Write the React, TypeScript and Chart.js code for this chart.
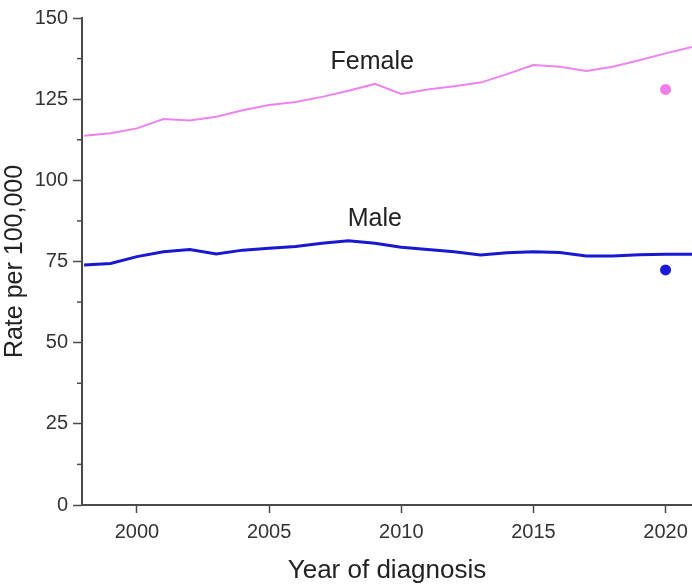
import React, { useEffect, useRef } from "react";
import { Chart, registerables } from "chart.js";

Chart.register(...registerables);

const years = [1998, 1999, 2000, 2001, 2002, 2003, 2004, 2005, 2006, 2007, 2008, 2009, 2010, 2011, 2012, 2013, 2014, 2015, 2016, 2017, 2018, 2019, 2020, 2021];
const femaleRates = [113.7, 114.5, 116.0, 118.9, 118.4, 119.6, 121.6, 123.2, 124.1, 125.7, 127.6, 129.7, 126.6, 128.0, 129.0, 130.1, 132.7, 135.5, 135.0, 133.7, 135.0, 137.0, 139.1, 141.1];
const maleRates = [73.9, 74.4, 76.5, 78.0, 78.7, 77.3, 78.5, 79.1, 79.6, 80.6, 81.4, 80.6, 79.4, 78.7, 78.0, 77.0, 77.7, 78.0, 77.8, 76.7, 76.7, 77.1, 77.2, 77.2];
const female2020Point = { year: 2020, rate: 128.0 };
const male2020Point = { year: 2020, rate: 72.4 };
const xTickValues = [2000, 2005, 2010, 2015, 2020];
const seriesLabels = [
  { text: "Female", year: 2008.9, rate: 136.4 },
  { text: "Male", year: 2009.0, rate: 88.0 },
];

const FONT = "'Liberation Sans', Arial, sans-serif";
const AXIS_COLOR = "#4a4a4a";

const labelPlugin = {
  id: "seriesLabels",
  afterDatasetsDraw(chart: any) {
    const { ctx, scales } = chart;
    ctx.save();
    ctx.font = `25px ${FONT}`;
    ctx.fillStyle = "#222";
    ctx.textAlign = "center";
    ctx.textBaseline = "middle";
    for (const l of seriesLabels) {
      ctx.fillText(l.text, scales.x.getPixelForValue(l.year), scales.y.getPixelForValue(l.rate));
    }
    // minor y ticks
    const y = scales.y;
    ctx.strokeStyle = AXIS_COLOR;
    ctx.lineWidth = 1.5;
    for (const t of y.ticks) {
      if (t.value % 25 !== 0) {
        const py = y.getPixelForValue(t.value);
        ctx.beginPath();
        ctx.moveTo(y.right - 5, py);
        ctx.lineTo(y.right, py);
        ctx.stroke();
      }
    }
    ctx.restore();
  },
};

export default function App() {
  const ref = useRef<HTMLCanvasElement>(null);
  useEffect(() => {
    if (!ref.current) return;
    const chart = new Chart(ref.current, {
      type: "line",
      data: {
        datasets: [
          {
            label: "Female",
            data: years.map((y, i) => ({ x: y, y: femaleRates[i] })),
            borderColor: "#ee82ee",
            borderWidth: 2,
            pointRadius: 0,
            tension: 0,
          },
          {
            label: "Male",
            data: years.map((y, i) => ({ x: y, y: maleRates[i] })),
            borderColor: "#1818d0",
            borderWidth: 3,
            pointRadius: 0,
            tension: 0,
          },
          {
            label: "Female 2020",
            data: [{ x: female2020Point.year, y: female2020Point.rate }],
            showLine: false,
            pointRadius: 5.5,
            pointBackgroundColor: "#f07ee6",
            pointBorderWidth: 0,
            borderColor: "#f07ee6",
          },
          {
            label: "Male 2020",
            data: [{ x: male2020Point.year, y: male2020Point.rate }],
            showLine: false,
            pointRadius: 5.5,
            pointBackgroundColor: "#1a1ad8",
            pointBorderWidth: 0,
            borderColor: "#1a1ad8",
          },
        ],
      },
      options: {
        responsive: false,
        animation: false,
        clip: false as any,
        layout: { autoPadding: false, padding: { top: 18, right: 0, left: 0, bottom: 0 } },
        plugins: { legend: { display: false }, tooltip: { enabled: false } },
        scales: {
          x: {
            type: "linear",
            min: 1997.92,
            max: 2021,
            afterBuildTicks: (scale: any) => {
              scale.ticks = xTickValues.map((v) => ({ value: v }));
            },
            afterFit: (scale: any) => {
              scale.height = 79;
              scale.paddingLeft = 0;
              scale.paddingRight = 0;
            },
            border: { color: AXIS_COLOR, width: 2 },
            grid: { drawOnChartArea: false, drawTicks: true, tickLength: 8, color: AXIS_COLOR, tickWidth: 1.5 },
            ticks: { font: { family: FONT, size: 20 }, color: "#333", padding: 7, callback: (v: any) => String(v) },
            title: { display: true, text: "Year of diagnosis", font: { family: FONT, size: 26 }, color: "#222", padding: { top: 0, bottom: -2 } },
          },
          y: {
            type: "linear",
            min: 0,
            max: 150,
            ticks: {
              stepSize: 12.5,
              font: { family: FONT, size: 20 },
              color: "#333",
              padding: 5,
              callback: (v: any) => (v % 25 === 0 ? String(v) : ""),
            },
            afterFit: (scale: any) => {
              scale.width = 82;
            },
            border: { color: AXIS_COLOR, width: 2 },
            grid: {
              drawOnChartArea: false,
              drawTicks: true,
              tickLength: 9,
              color: AXIS_COLOR,
              tickWidth: 1.5,
              tickColor: (c: any) => (c.tick && c.tick.value % 25 === 0 ? AXIS_COLOR : "rgba(0,0,0,0)"),
            },
            title: { display: true, text: "Rate per 100,000", font: { family: FONT, size: 25 }, color: "#222", padding: { top: 0, bottom: 0 } },
          },
        },
      },
      plugins: [labelPlugin],
    });
    return () => chart.destroy();
  }, []);
  return (
    <div style={{ position: "absolute", left: 0, top: 0, width: 692, height: 584, background: "#fff" }}>
      <canvas ref={ref} width={692} height={584} />
    </div>
  );
}
